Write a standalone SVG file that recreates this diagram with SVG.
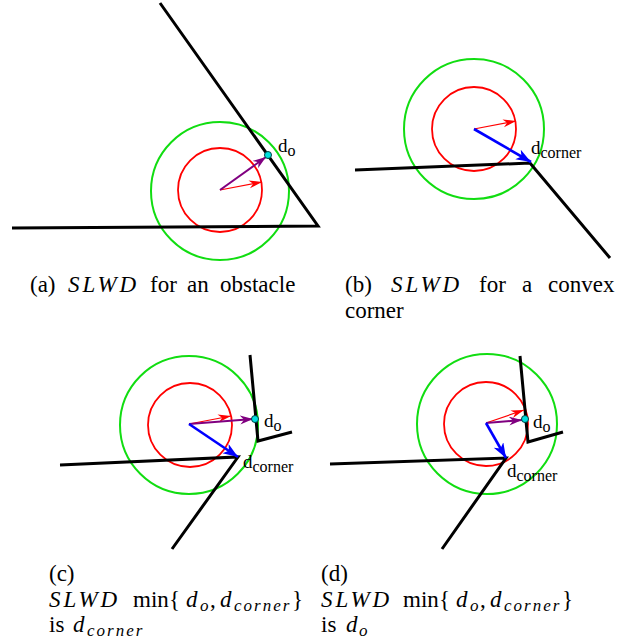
<svg xmlns="http://www.w3.org/2000/svg" width="639" height="644" viewBox="0 0 639 644">
<style>
.wall{fill:none;stroke:#000;stroke-width:3;stroke-linejoin:miter}
.outer{fill:none;stroke:#11dd11;stroke-width:2}
.inner{fill:none;stroke:#ff0000;stroke-width:1.8}
.ar{stroke:#ff0000;stroke-width:1.2;fill:none}
.ap{stroke:#800080;stroke-width:2;fill:none}
.ab{stroke:#0000ff;stroke-width:2.6;fill:none}
.dot{fill:#00e0e0;stroke:#004040;stroke-width:1}
.lbl{font-family:"Liberation Serif",serif;font-size:19px;fill:#000}
.sub{font-size:16px}
.cap{font-family:"Liberation Serif",serif;font-size:23px;fill:#000}
.it{font-style:italic;letter-spacing:3px}
.mi{font-style:italic}
.csub{font-size:17px;font-style:italic}
.wide{letter-spacing:2px}
</style>
<defs>
<marker id="hr" markerUnits="userSpaceOnUse" markerWidth="14" markerHeight="10" refX="13" refY="4" orient="auto"><path d="M0,0 L13,4 L0,8 L4,4 Z" fill="#ff0000"/></marker>
<marker id="hp" markerUnits="userSpaceOnUse" markerWidth="14" markerHeight="10" refX="13" refY="4.5" orient="auto"><path d="M0,0 L13,4.5 L0,9 L4,4.5 Z" fill="#800080"/></marker>
<marker id="hb" markerUnits="userSpaceOnUse" markerWidth="16" markerHeight="12" refX="15" refY="5.5" orient="auto"><path d="M0,0 L15,5.5 L0,11 L4,5.5 Z" fill="#0000ff"/></marker>
</defs>

<g id="panel-a">
<circle class="outer" cx="220" cy="191" r="69"/>
<circle class="inner" cx="220" cy="190" r="42"/>
</g>
<g id="panel-b">
<circle class="outer" cx="474" cy="129" r="70"/>
<circle class="inner" cx="474" cy="129" r="42"/>
</g>
<g id="panel-c">
<circle class="outer" cx="189" cy="425" r="69"/>
<circle class="inner" cx="190" cy="425" r="42"/>
</g>
<g id="panel-d">
<circle class="outer" cx="487" cy="424" r="70"/>
<circle class="inner" cx="486" cy="424" r="42"/>
</g>

<g id="connectors">
<polyline class="wall" points="160,3 318,226 12,228"/>
<polyline class="wall" points="355,170 530,163 610,258"/>
<polyline class="wall" points="60,465 238,457 172,549"/>
<polyline class="wall" points="250,355 258,441 292,432"/>
<polyline class="wall" points="330,464 506,458 442,549"/>
<polyline class="wall" points="520,356 528,442 563,432"/>

<line class="ar" x1="220" y1="190" x2="262" y2="182" marker-end="url(#hr)"/>
<line class="ap" x1="220" y1="190" x2="266" y2="157" marker-end="url(#hp)"/>

<line class="ar" x1="474" y1="129" x2="516" y2="121" marker-end="url(#hr)"/>
<line class="ab" x1="474" y1="129" x2="531" y2="162" marker-end="url(#hb)"/>

<line class="ar" x1="189" y1="424" x2="231" y2="416" marker-end="url(#hr)"/>
<line class="ap" x1="189" y1="424" x2="253" y2="419" marker-end="url(#hp)"/>
<line class="ab" x1="189" y1="424" x2="238" y2="457" marker-end="url(#hb)"/>

<line class="ar" x1="486" y1="423" x2="524" y2="410" marker-end="url(#hr)"/>
<line class="ap" x1="486" y1="423" x2="522" y2="420" marker-end="url(#hp)"/>
<line class="ab" x1="486" y1="423" x2="506" y2="458" marker-end="url(#hb)"/>
</g>

<g id="points">
<circle class="dot" cx="268" cy="155" r="3.5"/>
<circle class="dot" cx="255" cy="419" r="3.5"/>
<circle class="dot" cx="525" cy="419" r="3.5"/>
</g>

<g id="labels">
<text class="lbl" x="278" y="152">d<tspan class="sub" dy="3.5">o</tspan></text>
<text class="lbl" x="531" y="154">d<tspan class="sub" dy="3.5">corner</tspan></text>
<text class="lbl" x="264" y="427">d<tspan class="sub" dy="3.5">o</tspan></text>
<text class="lbl" x="243" y="468">d<tspan class="sub" dy="3.5">corner</tspan></text>
<text class="lbl" x="533" y="428">d<tspan class="sub" dy="3.5">o</tspan></text>
<text class="lbl" x="507" y="477">d<tspan class="sub" dy="3.5">corner</tspan></text>
</g>

<g id="captions">
<text class="cap" y="292"><tspan x="30">(a)</tspan> <tspan class="it" x="68">SLWD</tspan> <tspan x="150">for</tspan> <tspan x="187">an</tspan> <tspan x="220">obstacle</tspan></text>
<text class="cap" y="292"><tspan x="345">(b)</tspan> <tspan class="it" x="391">SLWD</tspan> <tspan x="479">for</tspan> <tspan x="522">a</tspan> <tspan x="548">convex</tspan></text>
<text class="cap" x="345" y="318">corner</text>

<text class="cap" x="49" y="581">(c)</text>
<text class="cap" y="607"><tspan class="it" x="49">SLWD</tspan> <tspan x="133">min</tspan><tspan x="169">{</tspan><tspan class="mi" x="186">d</tspan><tspan class="csub" x="200" dy="4">o</tspan><tspan x="210" dy="-4">,</tspan><tspan class="mi" x="220">d</tspan><tspan class="csub wide" x="234" dy="4">corner</tspan><tspan x="292" dy="-4">}</tspan></text>
<text class="cap" y="632"><tspan x="49">is</tspan> <tspan class="mi" x="73">d</tspan><tspan class="csub wide" x="87" dy="4">corner</tspan></text>

<text class="cap" x="321" y="581">(d)</text>
<text class="cap" y="607"><tspan class="it" x="321">SLWD</tspan> <tspan x="403">min</tspan><tspan x="439">{</tspan><tspan class="mi" x="456">d</tspan><tspan class="csub" x="470" dy="4">o</tspan><tspan x="480" dy="-4">,</tspan><tspan class="mi" x="490">d</tspan><tspan class="csub wide" x="504" dy="4">corner</tspan><tspan x="562" dy="-4">}</tspan></text>
<text class="cap" y="632"><tspan x="321">is</tspan> <tspan class="mi" x="346">d</tspan><tspan class="csub" x="359" dy="4">o</tspan></text>
</g>
</svg>
